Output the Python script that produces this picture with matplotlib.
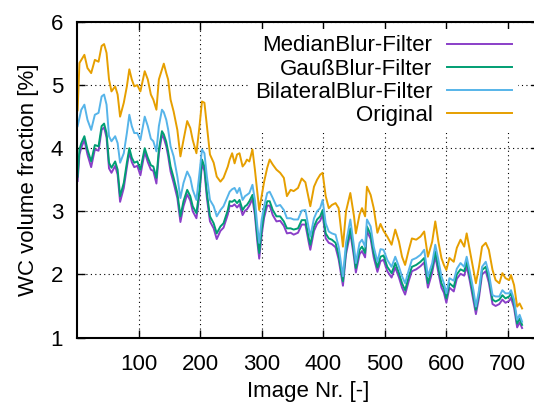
import matplotlib
matplotlib.use("Agg")
import matplotlib.pyplot as plt

plt.rcParams['font.family'] = ['Liberation Sans', 'DejaVu Sans']

image_nr = [1, 4, 7, 12, 17, 23, 29, 35, 40, 44, 48, 52, 56, 62, 66, 70, 76, 81, 85, 89, 93, 98, 103, 110, 115, 120,
            124, 129, 133, 138, 141, 145, 148, 152, 157, 163, 168, 173, 179, 184, 188, 194, 199, 203, 207, 211, 216, 222, 227, 233, 238,
            245, 248, 252, 256, 260, 264, 269, 273, 276, 280, 285, 289, 293, 296, 300, 304, 309, 313, 318, 324, 330, 336, 341, 347, 352, 359,
            365, 371, 377, 379, 385, 390, 395, 399, 404, 409, 414, 420, 425, 432, 437, 444, 450, 453, 459, 463, 468, 471, 477, 482, 488, 493, 498,
            504, 511, 517, 523, 528, 533, 539, 544, 551, 558, 564, 570, 577, 582, 587, 592, 596, 600, 605, 612, 617,
            623, 629, 633, 638, 644, 648, 653, 658, 664, 669, 675, 680, 686, 691, 696, 702, 705, 710, 715, 719, 723]

original = [4.60, 5.35, 5.40, 5.48, 5.27, 5.19, 5.40, 5.37, 5.62, 5.65, 5.51, 5.09, 4.90, 4.98, 4.85, 4.50, 4.72, 4.98, 5.25, 5.09, 4.98, 5.00, 4.90, 5.22, 5.09, 4.85,
            4.77, 4.61, 5.09, 5.25, 5.34, 5.19, 5.09, 4.77, 4.58, 4.29, 3.87, 4.13, 4.43, 4.32, 4.13, 3.92, 4.35, 4.74, 4.72, 4.35, 3.90, 3.77, 3.55, 3.47, 3.53,
            3.71, 3.82, 3.92, 3.76, 3.90, 3.92, 3.71, 3.76, 3.82, 3.79, 3.98, 3.66, 3.29, 3.02, 3.24, 3.47, 3.69, 3.82, 3.74, 3.66, 3.61, 3.53, 3.24, 3.34, 3.32, 3.37,
            3.52, 3.46, 3.18, 3.08, 3.39, 3.50, 3.58, 3.61, 3.24, 3.05, 3.10, 3.13, 3.05, 2.44, 3.00, 3.29, 2.92, 2.65, 2.95, 3.05, 2.92, 3.39, 3.26, 3.05, 2.66, 2.80, 2.69,
            2.60, 2.47, 2.71, 2.52, 2.28, 2.15, 2.39, 2.57, 2.55, 2.60, 2.68, 2.28, 2.52, 2.84, 2.52, 2.26, 2.15, 2.07, 2.26, 2.20, 2.42,
            2.55, 2.44, 2.65, 2.39, 2.07, 1.86, 2.12, 2.44, 2.50, 2.39, 2.07, 1.91, 1.86, 2.02, 1.94, 1.91, 1.99, 1.83, 1.49, 1.54, 1.46]

bilateral = [4.35, 4.48, 4.61, 4.69, 4.45, 4.29, 4.53, 4.56, 4.82, 4.85, 4.69, 4.19, 4.11, 4.19, 4.08, 3.77, 3.92, 4.24, 4.53, 4.35, 4.24, 4.24, 4.13, 4.50, 4.35, 4.15,
             4.11, 3.95, 4.35, 4.61, 4.57, 4.45, 4.30, 4.03, 3.87, 3.55, 3.21, 3.45, 3.63, 3.53, 3.34, 3.18, 3.61, 3.98, 3.92, 3.55, 3.18, 3.08, 2.92, 3.02, 3.08,
             3.24, 3.31, 3.35, 3.37, 3.29, 3.37, 3.18, 3.24, 3.26, 3.29, 3.42, 3.18, 2.76, 2.50, 2.87, 3.08, 3.29, 3.31, 3.21, 3.08, 3.10, 3.02, 2.89, 2.89, 2.87, 2.87,
             3.01, 3.02, 2.71, 2.60, 2.89, 3.00, 3.05, 3.18, 2.81, 2.68, 2.65, 2.63, 2.44, 1.97, 2.50, 2.87, 2.44, 2.18, 2.50, 2.55, 2.44, 2.87, 2.76, 2.44, 2.20, 2.40, 2.39,
             2.23, 2.12, 2.28, 2.12, 1.97, 1.86, 2.07, 2.23, 2.26, 2.31, 2.39, 1.97, 2.18, 2.47, 2.23, 1.97, 1.86, 1.70, 1.94, 1.90, 2.09,
             2.18, 2.12, 2.28, 2.05, 1.75, 1.49, 1.75, 2.12, 2.20, 2.02, 1.67, 1.65, 1.65, 1.75, 1.70, 1.70, 1.75, 1.60, 1.28, 1.36, 1.25]

gauss = [3.55, 3.98, 4.08, 4.19, 3.98, 3.79, 4.05, 4.03, 4.35, 4.39, 4.24, 3.77, 3.69, 3.79, 3.66, 3.24, 3.45, 3.77, 4.00, 3.85, 3.77, 3.79, 3.66, 4.00, 3.85, 3.73,
         3.71, 3.53, 3.98, 4.27, 4.22, 4.10, 3.95, 3.71, 3.53, 3.29, 2.92, 3.16, 3.34, 3.24, 3.08, 2.97, 3.34, 3.82, 3.71, 3.29, 2.92, 2.81, 2.65, 2.76, 2.81,
         3.02, 3.16, 3.15, 3.18, 3.13, 3.18, 3.02, 3.08, 3.10, 3.16, 3.26, 3.02, 2.60, 2.34, 2.71, 2.97, 3.16, 3.16, 3.02, 2.92, 2.92, 2.84, 2.73, 2.73, 2.71, 2.73,
         2.86, 2.86, 2.55, 2.47, 2.76, 2.87, 2.92, 3.02, 2.65, 2.57, 2.55, 2.50, 2.31, 1.89, 2.39, 2.73, 2.34, 2.10, 2.39, 2.44, 2.34, 2.76, 2.63, 2.34, 2.11, 2.28, 2.30,
         2.12, 2.02, 2.18, 2.02, 1.86, 1.75, 1.97, 2.12, 2.15, 2.20, 2.26, 1.86, 2.10, 2.36, 2.10, 1.86, 1.78, 1.62, 1.86, 1.80, 2.00,
         2.08, 2.05, 2.20, 1.97, 1.65, 1.44, 1.70, 2.07, 2.12, 1.94, 1.60, 1.57, 1.60, 1.67, 1.62, 1.65, 1.70, 1.54, 1.22, 1.30, 1.20]

median = [3.48, 3.90, 4.01, 4.13, 3.90, 3.70, 3.98, 3.96, 4.29, 4.33, 4.17, 3.68, 3.61, 3.72, 3.58, 3.15, 3.37, 3.70, 3.94, 3.78, 3.70, 3.72, 3.57, 3.94, 3.78, 3.66,
          3.64, 3.44, 3.91, 4.21, 4.16, 4.03, 3.88, 3.63, 3.45, 3.21, 2.83, 3.08, 3.27, 3.17, 3.00, 2.89, 3.27, 3.76, 3.64, 3.21, 2.84, 2.73, 2.56, 2.69, 2.74,
          2.95, 3.09, 3.08, 3.11, 3.06, 3.11, 2.94, 3.01, 3.03, 3.09, 3.20, 2.94, 2.51, 2.25, 2.63, 2.90, 3.09, 3.09, 2.94, 2.84, 2.85, 2.77, 2.65, 2.66, 2.63, 2.66,
          2.79, 2.79, 2.48, 2.39, 2.69, 2.80, 2.85, 2.95, 2.57, 2.50, 2.48, 2.43, 2.24, 1.82, 2.32, 2.66, 2.27, 2.03, 2.32, 2.37, 2.27, 2.69, 2.56, 2.27, 2.04, 2.21, 2.23,
          2.05, 1.95, 2.11, 1.95, 1.79, 1.68, 1.90, 2.05, 2.08, 2.13, 2.19, 1.79, 2.03, 2.29, 2.03, 1.79, 1.71, 1.55, 1.79, 1.73, 1.93,
          2.01, 1.98, 2.13, 1.90, 1.58, 1.37, 1.63, 2.00, 2.05, 1.87, 1.53, 1.50, 1.53, 1.60, 1.55, 1.58, 1.63, 1.47, 1.16, 1.24, 1.15]

labels = ["MedianBlur-Filter", "GaußBlur-Filter", "BilateralBlur-Filter", "Original"]
colors = ["#8a3fc8", "#009e73", "#56b4e9", "#e69f00"]
x_ticks = [100, 200, 300, 400, 500, 600, 700]
y_ticks = [1, 2, 3, 4, 5, 6]

W, H = 534, 405
fig = plt.figure(figsize=(W / 100, H / 100), dpi=100)
ax = fig.add_axes([77 / W, 67.5 / H, 461.7 / W, 315.5 / H])

for series, lab, col in zip([median, gauss, bilateral, original], labels, colors):
    ax.plot(image_nr, series, color=col, lw=1.4, label=lab)

ax.set_xlim(0, 750)
ax.set_ylim(1, 6)
ax.set_xticks(x_ticks)
ax.set_yticks(y_ticks)
ax.set_axisbelow(True)
ax.grid(True, color='black', lw=0.8, linestyle=(0, (1, 3)))
ax.tick_params(direction='in', length=6, width=1, top=True, right=True,
               labelsize=16, pad=10)
ax.tick_params(axis='x', pad=12)
for s in ax.spines.values():
    s.set_linewidth(1.5)

ax.set_xlabel("Image Nr. [-]", fontsize=16, labelpad=4)
ax.set_ylabel("WC volume fraction [%]", fontsize=16, labelpad=8)

leg = ax.legend(loc='upper right', bbox_to_anchor=(0.956, 0.979), markerfirst=False,
                frameon=True, fancybox=False, edgecolor='none', facecolor='white',
                framealpha=1, fontsize=16, handlelength=2.9, handletextpad=0.67,
                labelspacing=0.1, borderpad=0.3, borderaxespad=0)

fig.savefig("out.png", dpi=100)
